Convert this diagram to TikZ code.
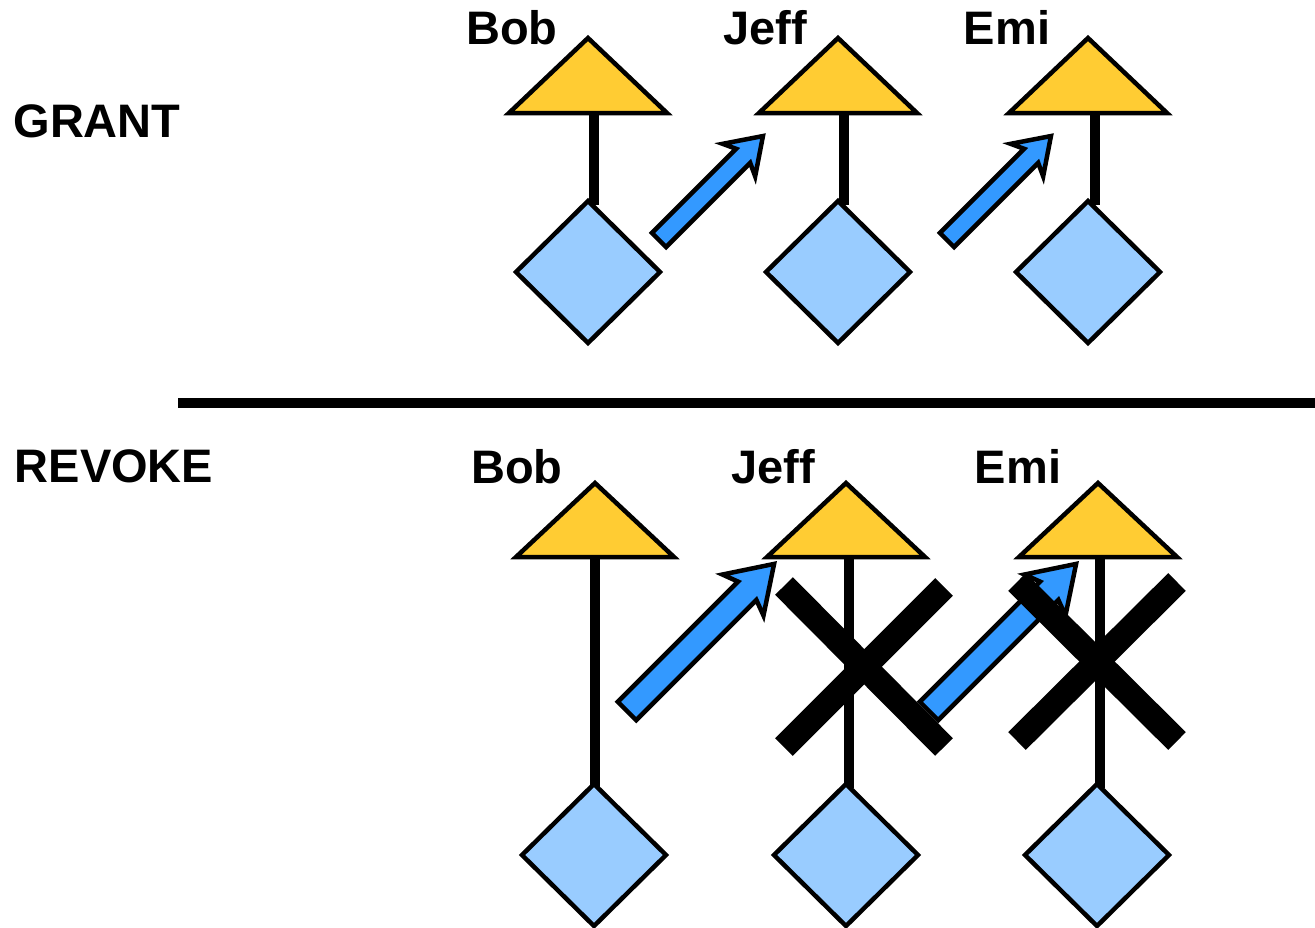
\documentclass[tikz,border=0pt]{standalone}
\usepackage{fontspec}
\setmainfont{Liberation Sans}
\definecolor{tri}{HTML}{FFCC33}
\definecolor{dia}{HTML}{99CCFF}
\definecolor{arr}{HTML}{3399FF}
\tikzset{
  lbl/.style={font=\fontsize{47}{56}\selectfont\bfseries, inner sep=0pt, anchor=base},
  tribox/.style={draw=black, fill=tri, line width=4.5pt, line join=miter},
  diabox/.style={draw=black, fill=dia, line width=4.5pt, line join=miter},
  stem/.style={draw=black, line width=10pt},
  arrowbox/.style={draw=black, fill=arr, line width=4.5pt, line join=miter},
  cross/.style={draw=black, line width=25pt, line cap=butt},
  sep/.style={draw=black, line width=10pt}
}
% #1 tail coordinate, #2 length, #3 shaft half width, #4 head half width, #5 notch back, #6 barb back
\newcommand\blockarr[6]{%
  \begin{scope}[shift={(#1)},rotate=45]
    \draw[arrowbox] (0,-#3) -- (#2-#5,-#3) -- (#2-#6,-#4) -- (#2,0) -- (#2-#6,#4) -- (#2-#5,#3) -- (0,#3) -- cycle;
  \end{scope}}
\newcommand\tri[3]{\draw[tribox] (#1,#2) -- (#1+79,#3) -- (#1-79,#3) -- cycle;}
\newcommand\dia[2]{\draw[diabox] (#1,#2-71) -- (#1+72,#2) -- (#1,#2+71) -- (#1-72,#2) -- cycle;}
\begin{document}
\begin{tikzpicture}[x=1pt,y=-1pt]
\useasboundingbox (0,0) rectangle (1315,927);
% section labels
\node[lbl] (grant) at (97,137) {GRANT};
\node[lbl] (revoke) at (114,482) {REVOKE};
% separator
\coordinate (sepL) at (178,403);
\coordinate (sepR) at (1315,403);
\draw[sep] (sepL) -- (sepR);
% top names
\node[lbl] (bob1) at (512,44) {Bob};
\node[lbl] (jeff1) at (765,44) {Jeff};
\node[lbl] (emi1) at (1007,44) {Emi};
% bottom names
\node[lbl] (bob2) at (517,483) {Bob};
\node[lbl] (jeff2) at (773,483) {Jeff};
\node[lbl] (emi2) at (1018,483) {Emi};
% stems (top)
\coordinate (bobTa) at (594,113); \coordinate (bobTb) at (594,205);
\coordinate (jeffTa) at (844,113); \coordinate (jeffTb) at (844,205);
\coordinate (emiTa) at (1095,113); \coordinate (emiTb) at (1095,205);
\draw[stem] (bobTa) -- (bobTb);
\draw[stem] (jeffTa) -- (jeffTb);
\draw[stem] (emiTa) -- (emiTb);
% stems (bottom)
\coordinate (bobBa) at (595,557); \coordinate (bobBb) at (595,788);
\coordinate (jeffBa) at (849,557); \coordinate (jeffBb) at (849,788);
\coordinate (emiBa) at (1100,557); \coordinate (emiBb) at (1100,788);
\draw[stem] (bobBa) -- (bobBb);
\draw[stem] (jeffBa) -- (jeffBb);
\draw[stem] (emiBa) -- (emiBb);
% triangles
\tri{588}{38}{113}
\tri{838}{38}{113}
\tri{1088}{38}{113}
\tri{595}{483}{557}
\tri{846}{483}{557}
\tri{1098}{483}{557}
% diamonds
\dia{588}{272}
\dia{838}{272}
\dia{1088}{272}
\dia{594}{855}
\dia{846}{855}
\dia{1097}{855}
% block arrows
\coordinate (a1) at (659,240);
\coordinate (a2) at (947,240);
\coordinate (a3) at (627,711);
\coordinate (a4) at (929,711);
\blockarr{a1}{147}{10}{23}{28}{34}
\blockarr{a2}{147}{10}{23}{28}{34}
\blockarr{a3}{208}{13}{29}{38}{44}
\blockarr{a4}{208}{13}{29}{38}{44}
% crosses
\coordinate (x1a) at (784,586); \coordinate (x1b) at (944,747);
\coordinate (x1c) at (944,587); \coordinate (x1d) at (784,747);
\coordinate (x2a) at (1017,582); \coordinate (x2b) at (1177,741);
\coordinate (x2c) at (1177,582); \coordinate (x2d) at (1017,741);
\draw[cross] (x1a) -- (x1b);
\draw[cross] (x1c) -- (x1d);
\draw[cross] (x2a) -- (x2b);
\draw[cross] (x2c) -- (x2d);
\end{tikzpicture}
\end{document}
